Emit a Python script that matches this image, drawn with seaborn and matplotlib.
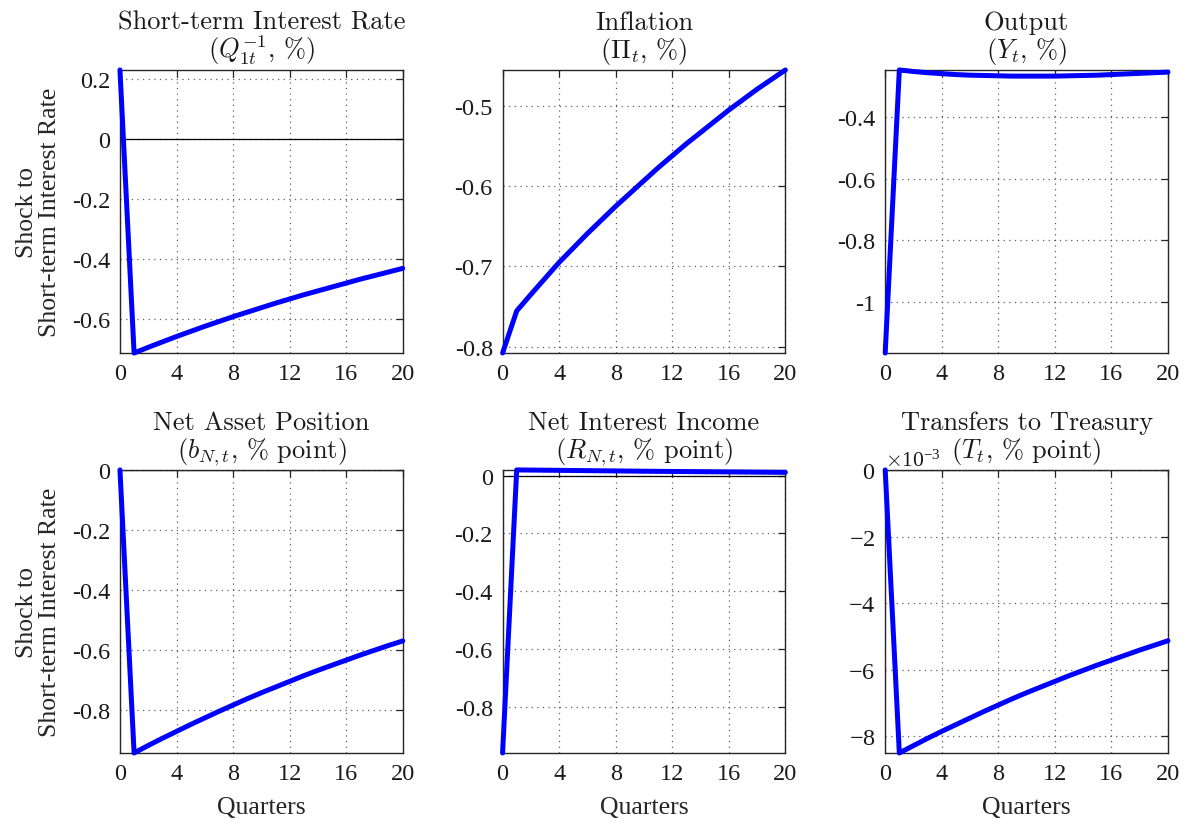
import numpy as np
import pandas as pd
import matplotlib
matplotlib.use("Agg")
import matplotlib.pyplot as plt
import seaborn as sns
from matplotlib.ticker import FormatStrFormatter, ScalarFormatter

# ---------------- data ----------------
quarters = list(range(21))

rate = [0.231, -0.712, -0.693, -0.675, -0.657, -0.640, -0.623, -0.607, -0.591, -0.576,
        -0.561, -0.546, -0.532, -0.518, -0.505, -0.492, -0.479, -0.466, -0.454, -0.442, -0.430]

inflation = [-0.808, -0.7555, -0.735, -0.715, -0.695, -0.677, -0.659, -0.642, -0.625, -0.609,
             -0.593, -0.577, -0.562, -0.547, -0.533, -0.519, -0.505, -0.492, -0.479, -0.467, -0.455]

output = [-1.167, -0.246, -0.251, -0.255, -0.258, -0.261, -0.263, -0.264, -0.265, -0.266,
          -0.266, -0.266, -0.266, -0.265, -0.264, -0.263, -0.261, -0.259, -0.257, -0.255, -0.253]

net_asset = [0.0, -0.945, -0.920, -0.896, -0.873, -0.850, -0.828, -0.806, -0.785, -0.764,
             -0.744, -0.725, -0.706, -0.687, -0.669, -0.652, -0.635, -0.618, -0.602, -0.586, -0.571]

net_income = [-0.960, 0.0195, 0.0190, 0.0185, 0.0180, 0.0175, 0.0170, 0.0165, 0.0160, 0.0155,
              0.0150, 0.0146, 0.0142, 0.0138, 0.0134, 0.0130, 0.0126, 0.0122, 0.0118, 0.0114, 0.0110]

transfers = [0.0, -0.00850, -0.00828, -0.00806, -0.00785, -0.00765, -0.00745, -0.00725, -0.00706,
             -0.00687, -0.00669, -0.00652, -0.00635, -0.00618, -0.00602, -0.00586, -0.00571,
             -0.00556, -0.00541, -0.00527, -0.00513]

titles_main = [
    "Short-term Interest Rate",
    "Inflation",
    "Output",
    "Net Asset Position",
    "Net Interest Income",
    "Transfers to Treasury",
]
titles_sub = [
    "($Q_{1t}^{-1}$, %)",
    "($\\Pi_t$, %)",
    "($Y_t$, %)",
    "($b_{N,t}$, % point)",
    "($R_{N,t}$, % point)",
    "($T_t$, % point)",
]
series = [rate, inflation, output, net_asset, net_income, transfers]
yticks = [
    [-0.6, -0.4, -0.2, 0, 0.2],
    [-0.8, -0.7, -0.6, -0.5],
    [-1, -0.8, -0.6, -0.4],
    [-0.8, -0.6, -0.4, -0.2, 0],
    [-0.8, -0.6, -0.4, -0.2, 0],
    [-0.008, -0.006, -0.004, -0.002, 0],
]
xticks = [0, 4, 8, 12, 16, 20]
ylabel_text = "Shock to\nShort-term Interest Rate"
xlabel_text = "Quarters"

# ---------------- style ----------------
sns.set_style("white")
plt.rcParams["font.family"] = ["Liberation Serif", "DejaVu Serif"]
plt.rcParams["mathtext.fontset"] = "cm"
plt.rcParams["axes.unicode_minus"] = False
plt.rcParams["axes.formatter.use_mathtext"] = False

fig, axes = plt.subplots(2, 3, figsize=(11.9, 8.29), dpi=100)
fig.subplots_adjust(left=0.1008, right=0.9815, top=0.9144, bottom=0.0905,
                    wspace=0.353, hspace=0.413)

frame_col = "#262626"
title_col = "#1a1a1a"
for i, ax in enumerate(axes.flat):
    y = series[i]
    df = pd.DataFrame({"q": quarters, "v": y})
    ax.axhline(0, color="black", lw=0.9, zorder=2)
    sns.lineplot(data=df, x="q", y="v", ax=ax, color=(0, 0, 1), lw=3.6,
                 zorder=5, clip_on=False)
    ax.set_xlim(0, 20)
    ax.set_ylim(min(y), max(y))
    ax.set_xticks(xticks)
    ax.set_yticks(yticks[i])
    ax.grid(True, linestyle=(0, (1, 3.5)), color="#444444", lw=0.9, alpha=0.85)
    ax.set_axisbelow(True)
    for sp in ax.spines.values():
        sp.set_visible(True)
        sp.set_color(frame_col)
        sp.set_linewidth(1.0)
        sp.set_zorder(4)
    ax.tick_params(direction="in", length=5, width=0.9, color=frame_col,
                   top=True, right=True, labelsize=17.5, pad=7,
                   labelcolor="#1a1a1a")
    ax.set_title(titles_main[i], fontsize=19, family="cmr10", pad=29.5, y=1.0,
                 color=title_col)
    ax.annotate(titles_sub[i], xy=(0.5, 1.0), xycoords="axes fraction",
                xytext=(0, 9), textcoords="offset points", ha="center",
                va="baseline", fontsize=19, family="cmr10", color=title_col,
                annotation_clip=False)
    ax.set_xlabel(xlabel_text if i >= 3 else "", fontsize=18.5, labelpad=9)
    ax.set_ylabel(ylabel_text if i % 3 == 0 else "", fontsize=18.5, labelpad=8,
                  linespacing=1.05)
    if i == 5:
        fmt = ScalarFormatter(useMathText=True)
        fmt.set_powerlimits((0, 0))
        ax.yaxis.set_major_formatter(fmt)
        ax.yaxis.get_offset_text().set_fontsize(15.5)
    else:
        ax.yaxis.set_major_formatter(FormatStrFormatter("%g"))

fig.savefig("out.png", dpi=100)
